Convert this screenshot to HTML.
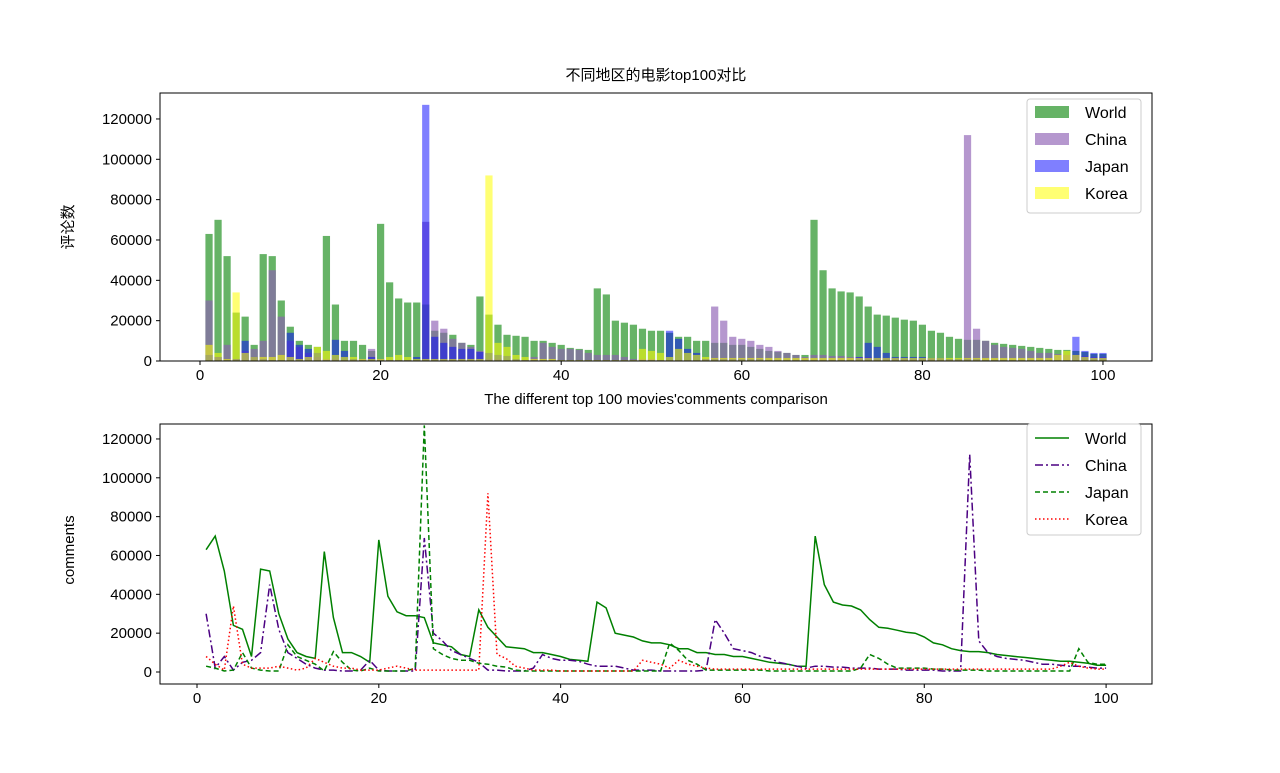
<!DOCTYPE html>
<html><head><meta charset="utf-8"><style>
body{margin:0;background:#fff;}
svg text{font-family:"Liberation Sans","Noto Sans CJK SC",sans-serif;}
</style></head><body>
<svg id="c" width="1280" height="768"></svg>
<script>
const xs=[];for(let i=1;i<=100;i++)xs.push(i);
const world=[63000,70000,52000,24000,22000,8000,53000,52000,30000,17000,10000,8000,7000,62000,28000,10000,10000,8000,5000,68000,39000,31000,29000,29000,28000,15000,14000,13000,9000,8000,32000,23000,18000,13000,12500,12000,10000,10000,9000,8000,6500,6000,5500,36000,33000,20000,19000,18000,16000,15000,15000,14000,12000,12000,10000,10000,9000,9000,8000,8000,7000,6000,5000,4500,4000,3000,3000,70000,45000,36000,34500,34000,32000,27000,23000,22500,21500,20500,20000,18000,15000,14000,12000,11000,10500,10500,10000,9000,8500,8000,7500,7000,6500,6000,5500,5500,5000,4500,3500,3500];
const china=[30000,2000,8000,1000,5000,6000,10000,45000,22000,10000,7000,4000,2000,1000,1000,500,500,1000,6000,1000,500,500,500,500,69000,20000,16000,11000,9000,7000,5000,1000,1000,500,500,500,2000,9000,7000,6000,6000,5500,4000,3000,3000,3000,2000,1000,1000,1000,500,500,500,500,500,1000,27000,20000,12000,11000,10000,8000,7000,5000,4000,3000,2000,3000,3000,2500,2500,2000,2000,2000,1500,1500,1500,1000,1000,1000,1000,500,500,500,112000,16000,10000,8000,7000,6500,6000,5000,4000,4000,3500,3000,3000,2500,2000,2000];
const japan=[3000,2000,500,1000,10000,2000,1000,500,500,14000,8000,6000,4000,500,10500,5000,1000,500,2000,500,500,500,500,2000,127000,12000,9000,7000,6000,6000,4500,4000,3000,2500,1000,500,500,500,500,500,500,500,500,500,500,500,500,500,500,500,500,15000,11000,6000,4000,1000,1000,1000,1000,1000,1000,1000,500,500,500,500,500,500,500,500,500,500,2000,9000,7000,4000,2000,2000,2000,2000,1500,1500,1000,1000,1000,1000,500,500,500,500,500,500,500,500,500,500,12000,5000,4000,4000];
const korea=[8000,4000,1000,34000,4000,2000,2000,2000,3000,2000,1000,2000,7000,5000,3000,2000,2000,1000,1000,1000,2000,3000,2000,1000,1000,1000,1000,1000,1000,1000,1000,92000,9000,7000,3000,2000,1000,1000,1000,500,500,500,500,500,500,500,500,500,6000,5000,4000,2000,6000,4000,3000,2000,1500,1500,1500,1500,1500,1500,1500,1500,1500,1500,1500,1500,1500,1500,1500,1500,1500,1500,1500,1500,1500,1500,1500,1500,1500,1500,1500,1500,1500,1500,1500,1500,1500,1500,1500,1500,1500,1500,3000,5000,3000,2000,1500,1500];
const xticks=[0,20,40,60,80,100];
const yticks=[0,20000,40000,60000,80000,100000,120000];
const names=["World","China","Japan","Korea"];
const S="http://www.w3.org/2000/svg",svg=document.getElementById('c');
function el(t,a,p){const e=document.createElementNS(S,t);for(const k in a)e.setAttribute(k,a[k]);(p||svg).appendChild(e);return e;}
function txt(s,a,p){const e=el('text',a,p);e.textContent=s;return e;}
function axes(ax,xmin,xmax,y0px,yPer,title,ylab,yl){
  const X=v=>ax.l+(v-xmin)/(xmax-xmin)*(ax.r-ax.l);
  const Y=v=>y0px-v/1000*yPer;
  return {X,Y};
}
function frame(ax,X,Y,name){
  const g=el('g',{});
  
  
  el('rect',{x:ax.l,y:ax.t,width:ax.r-ax.l,height:ax.b-ax.t,fill:'none',stroke:'#000','stroke-width':1},g);
  xticks.forEach(v=>{const x=X(v);el('line',{x1:x,x2:x,y1:ax.b,y2:ax.b+4,stroke:'#000'},g);
    const t=txt(v,{x:x,y:ax.b+19,'font-size':15,'text-anchor':'middle'},g);
    });
  yticks.forEach(v=>{const y=Y(v);el('line',{x1:ax.l-4,x2:ax.l,y1:y,y2:y,stroke:'#000'},g);
    const t=txt(v,{x:ax.l-8,y:y+5,'font-size':15,'text-anchor':'end'},g);
    });
}
// top
const A1={l:160,r:1152,t:93,b:361};
const a1=axes(A1,-4.43,105.43,361,2.017);
const series=[world,china,japan,korea];
const bcols=[['#008000',0.6],['#8e5fb3',0.65],['#0000ff',0.5],['#ffff00',0.55]];
series.forEach((s,si)=>{
  const g=el('g',{});
  
  
  s.forEach((v,i)=>{const x=a1.X(xs[i]-0.4),w=a1.X(xs[i]+0.4)-x;
    const r=el('rect',{x:x,y:a1.Y(v),width:w,height:a1.Y(0)-a1.Y(v),fill:bcols[si][0],'fill-opacity':bcols[si][1]},g);
    
    });
});
frame(A1,a1.X,a1.Y,'top');
let t=txt('不同地区的电影top100对比',{x:656,y:80,'font-size':15,'text-anchor':'middle'});

t=txt('评论数',{x:0,y:0,'font-size':15,'text-anchor':'middle',transform:'translate(73,227) rotate(-90)'});

// top legend
let lg=el('g',{});

el('rect',{x:1027,y:99,width:114,height:114,rx:3,fill:'#fff',stroke:'#ccc'},lg);
names.forEach((n,i)=>{const y=106+i*27;
  el('rect',{x:1035,y:y,width:34,height:12,fill:bcols[i][0],'fill-opacity':bcols[i][1]},lg);
  const e=txt(n,{x:1085,y:y+12,'font-size':16},lg);
  });
// bottom
const A2={l:160,r:1152,t:424,b:684};
const a2=axes(A2,-4.07,105.05,672,1.942);
const lstyle=[['#008000','none'],['#4b0082','8,3,2,3'],['#008000','5,3'],['#ff0000','1.5,2.5']];
series.forEach((s,si)=>{
  const d=s.map((v,i)=>(i?'L':'M')+a2.X(xs[i]).toFixed(1)+','+a2.Y(v).toFixed(1)).join('');
  const p=el('path',{d:d,fill:'none',stroke:lstyle[si][0],'stroke-width':1.5,'stroke-dasharray':lstyle[si][1]});
  
  
});
frame(A2,a2.X,a2.Y,'bottom');
t=txt("The different top 100 movies'comments comparison",{x:656,y:404,'font-size':15,'text-anchor':'middle'});

t=txt('comments',{x:0,y:0,'font-size':15,'text-anchor':'middle',transform:'translate(74,550) rotate(-90)'});

lg=el('g',{});

el('rect',{x:1027,y:424,width:114,height:111,rx:3,fill:'#fff',stroke:'#ccc'},lg);
names.forEach((n,i)=>{const y=438+i*27;
  el('line',{x1:1035,x2:1069,y1:y,y2:y,stroke:lstyle[i][0],'stroke-width':1.5,'stroke-dasharray':lstyle[i][1]},lg);
  const e=txt(n,{x:1085,y:y+6,'font-size':16},lg);
  });
</script>
</body></html>
